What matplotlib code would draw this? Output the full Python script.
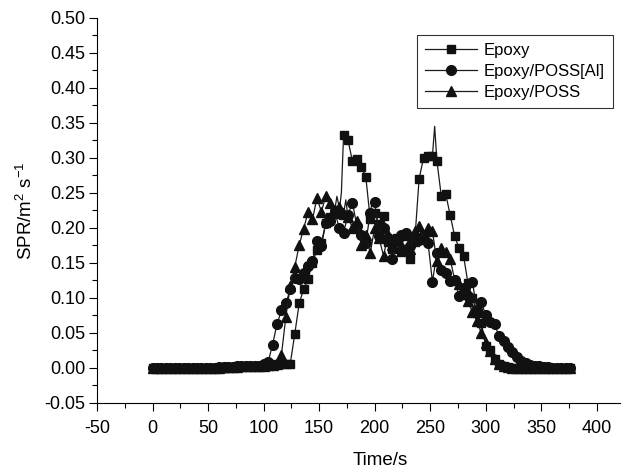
import matplotlib.pyplot as plt
import numpy as np

plt.rcParams['font.family'] = ['Liberation Sans', 'DejaVu Sans']
plt.rcParams['mathtext.fontset'] = 'custom'
plt.rcParams['mathtext.rm'] = 'Liberation Sans'
plt.rcParams['mathtext.it'] = 'Liberation Sans:italic'
plt.rcParams['axes.unicode_minus'] = False

# sampling times (s) for the marked points
time = np.arange(0, 377, 4)

epoxy = [0.000, 0.000, 0.000, 0.000, 0.000, 0.000, 0.000, 0.000, 0.000, 0.000,
         0.000, 0.000, 0.000, 0.000, 0.000, 0.000, 0.000, 0.001, 0.001, 0.001,
         0.002, 0.002, 0.002, 0.003, 0.003, 0.003, 0.004, 0.004, 0.005, 0.005,
         0.006, 0.006, 0.048, 0.092, 0.112, 0.127, 0.150, 0.169, 0.179, 0.207,
         0.215, 0.220, 0.222, 0.333, 0.325, 0.295, 0.299, 0.287, 0.273, 0.212,
         0.221, 0.205, 0.217, 0.180, 0.170, 0.185, 0.165, 0.170, 0.155, 0.180,
         0.270, 0.300, 0.303, 0.303, 0.296, 0.245, 0.248, 0.218, 0.188, 0.171,
         0.160, 0.121, 0.100, 0.079, 0.064, 0.031, 0.026, 0.012, 0.005, 0.002,
         0.001, 0.000, 0.000, 0.000, 0.000, 0.000, 0.000, 0.000, 0.000, 0.000,
         0.000, 0.000, 0.000, 0.000, 0.000]

poss_al = [0.000, 0.000, 0.000, 0.000, 0.000, 0.000, 0.000, 0.000, 0.000, 0.000,
           0.000, 0.000, 0.000, 0.000, 0.000, 0.001, 0.001, 0.001, 0.001, 0.002,
           0.002, 0.002, 0.003, 0.003, 0.003, 0.005, 0.008, 0.033, 0.062, 0.082,
           0.092, 0.112, 0.129, 0.127, 0.135, 0.145, 0.152, 0.181, 0.174, 0.207,
           0.210, 0.224, 0.200, 0.193, 0.219, 0.236, 0.202, 0.190, 0.179, 0.221,
           0.237, 0.188, 0.200, 0.186, 0.155, 0.181, 0.190, 0.193, 0.174, 0.185,
           0.183, 0.190, 0.179, 0.123, 0.164, 0.140, 0.136, 0.124, 0.126, 0.102,
           0.114, 0.102, 0.123, 0.083, 0.094, 0.075, 0.065, 0.062, 0.045, 0.038,
           0.030, 0.022, 0.015, 0.010, 0.007, 0.004, 0.003, 0.002, 0.001, 0.001,
           0.000, 0.000, 0.000, 0.000, 0.000]

poss = [0.000, 0.000, 0.000, 0.000, 0.000, 0.000, 0.000, 0.000, 0.000, 0.000,
        0.000, 0.000, 0.000, 0.000, 0.000, 0.000, 0.001, 0.001, 0.001, 0.001,
        0.002, 0.002, 0.002, 0.003, 0.003, 0.003, 0.004, 0.004, 0.005, 0.018,
        0.073, 0.117, 0.144, 0.175, 0.199, 0.222, 0.212, 0.243, 0.223, 0.245,
        0.236, 0.225, 0.230, 0.220, 0.215, 0.200, 0.210, 0.175, 0.190, 0.164,
        0.200, 0.185, 0.160, 0.190, 0.175, 0.183, 0.175, 0.190, 0.170, 0.195,
        0.203, 0.185, 0.200, 0.195, 0.152, 0.171, 0.165, 0.155, 0.126, 0.120,
        0.110, 0.095, 0.080, 0.067, 0.050, 0.036, 0.024, 0.012, 0.006, 0.003,
        0.001, 0.000, 0.000, 0.000, 0.000, 0.000, 0.000, 0.000, 0.000, 0.000,
        0.000, 0.000, 0.000, 0.000, 0.000]

# short spikes of the traces that carry no marker
epoxy_spike_t = [170, 254]
epoxy_spike_v = [0.250, 0.345]
poss_spike_t = [166, 174]
poss_spike_v = [0.245, 0.240]
poss_al_spike_t = [198]
poss_al_spike_v = [0.240]

labels = ['Epoxy', 'Epoxy/POSS[Al]', 'Epoxy/POSS']


def with_spikes(t, v, st, sv):
    tt = list(t) + list(st)
    vv = list(v) + list(sv)
    flag = [True] * len(t) + [False] * len(st)
    order = np.argsort(tt, kind='stable')
    tt = np.array(tt)[order]
    vv = np.array(vv)[order]
    flag = np.array(flag)[order]
    return tt, vv, list(np.where(flag)[0])


fig = plt.figure(figsize=(6.22, 4.69), dpi=100)
ax = fig.add_axes([0.156, 0.141, 0.841, 0.821])

series = [(epoxy, epoxy_spike_t, epoxy_spike_v, 's', 6.3),
          (poss_al, poss_al_spike_t, poss_al_spike_v, 'o', 7),
          (poss, poss_spike_t, poss_spike_v, '^', 7.5)]

for (vals, st, sv, mk, ms), lab in zip(series, labels):
    tt, vv, idx = with_spikes(time, vals, st, sv)
    ax.plot(tt, vv, color='#1a1a1a', lw=0.9, marker=mk, ms=ms,
            mfc='#111111', mec='#111111', markevery=idx, label=lab)

ax.set_xlim(-50, 421)
ax.set_ylim(-0.05, 0.50)
ax.set_xticks(np.arange(-50, 401, 50))
ax.set_xticks(np.arange(-25, 421, 50), minor=True)
ax.set_yticks(np.arange(-0.05, 0.501, 0.05))
ax.set_yticks(np.arange(-0.025, 0.50, 0.05), minor=True)
ax.yaxis.set_major_formatter(plt.FormatStrFormatter('%.2f'))
ax.tick_params(which='major', direction='out', length=6, width=0.8, labelsize=13)
ax.tick_params(which='minor', direction='out', length=3.5, width=0.8)
ax.tick_params(axis='x', which='major', pad=6)
ax.tick_params(axis='y', which='major', pad=2.5)
ax.spines['top'].set_visible(False)
ax.spines['right'].set_visible(False)

ax.set_xlabel('Time/s', fontsize=13.5)
ax.xaxis.set_label_coords((380 - 97) / 523, -0.127)
ax.set_ylabel('SPR/m$^2$ s$^{-1}$', fontsize=13.5, labelpad=6)

leg = ax.legend(loc='upper left', bbox_to_anchor=(417 / 622, 1 - 35 / 469),
                bbox_transform=fig.transFigure, borderaxespad=0, fontsize=12,
                frameon=True, fancybox=False, edgecolor='black',
                handlelength=3.1, handletextpad=0.4, labelspacing=0.35,
                borderpad=0.5)
leg.get_frame().set_linewidth(0.8)

fig.savefig('out.png', dpi=100)
